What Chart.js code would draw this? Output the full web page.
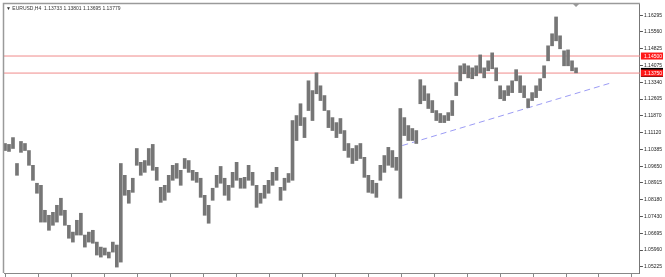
<!DOCTYPE html>
<html>
<head>
<meta charset="utf-8">
<script src="https://cdn.jsdelivr.net/npm/chart.js@4.4.1/dist/chart.umd.min.js"></script>
<style>
  html, body { margin: 0; padding: 0; background: #fff; }
</style>
</head>
<body>
<canvas id="priceChart" width="665" height="277"></canvas>
<script>
const symbolTitle = "\u25BC EURUSD,H4  1.13733 1.13801 1.13695 1.13779";

// H4 bars, one entry every few bars (high / low)
const highs = [
  1.1065, 1.1061, 1.1091, 1.0977, 1.1074, 1.1065, 1.1034, 1.0969, 1.0890, 1.0881,
  1.0771, 1.0749, 1.0762, 1.0793, 1.0824, 1.0771, 1.0705, 1.0675, 1.0727, 1.0758,
  1.0662, 1.0675, 1.0683, 1.0631, 1.0609, 1.0605, 1.0587, 1.0631, 1.0618, 1.0977,
  1.0925, 1.0859, 1.0912, 1.1043, 1.0982, 1.0990, 1.1043, 1.1061, 1.0960, 1.0872,
  1.0881, 1.0925, 1.0969, 1.0977, 1.0947, 1.0999, 1.0990, 1.0947, 1.0938, 1.0912,
  1.0837, 1.0793, 1.0868, 1.0925, 1.0964, 1.0912, 1.0881, 1.0938, 1.0982, 1.0912,
  1.0916, 1.0969, 1.0938, 1.0881, 1.0846, 1.0881, 1.0903, 1.0938, 1.0960, 1.0872,
  1.0912, 1.0933, 1.1166, 1.1188, 1.1240, 1.1179, 1.1341, 1.1298, 1.1376, 1.1319,
  1.1276, 1.1210, 1.1179, 1.1157, 1.1175, 1.1122, 1.1065, 1.1043, 1.1056, 1.1065,
  1.1004, 1.0925, 1.0903, 1.0890, 1.0969, 1.1012, 1.1048, 1.1034, 1.1004, 1.1219,
  1.1179, 1.1144, 1.1131, 1.1122, 1.1346, 1.1319, 1.1284, 1.1254, 1.1210, 1.1197,
  1.1188, 1.1201, 1.1254, 1.1333, 1.1407, 1.1416, 1.1407, 1.1398, 1.1407, 1.1455,
  1.1398, 1.1429, 1.1464, 1.1398, 1.1319, 1.1298, 1.1319, 1.1341, 1.1390, 1.1363,
  1.1319, 1.1262, 1.1289, 1.1319, 1.1350, 1.1407, 1.1495, 1.1548, 1.1622, 1.1539,
  1.1473, 1.1477, 1.1429, 1.1398
];
const lows = [
  1.1034, 1.1030, 1.1043, 1.0925, 1.1026, 1.1034, 1.0969, 1.0903, 1.0846, 1.0719,
  1.0719, 1.0683, 1.0705, 1.0719, 1.0749, 1.0705, 1.0648, 1.0631, 1.0662, 1.0662,
  1.0609, 1.0631, 1.0626, 1.0574, 1.0565, 1.0574, 1.0561, 1.0587, 1.0521, 1.0543,
  1.0837, 1.0802, 1.0850, 1.0969, 1.0925, 1.0938, 1.0969, 1.0947, 1.0903, 1.0806,
  1.0815, 1.0850, 1.0903, 1.0912, 1.0881, 1.0955, 1.0938, 1.0903, 1.0894, 1.0828,
  1.0749, 1.0714, 1.0815, 1.0872, 1.0890, 1.0837, 1.0815, 1.0872, 1.0903, 1.0868,
  1.0868, 1.0903, 1.0881, 1.0784, 1.0802, 1.0824, 1.0846, 1.0881, 1.0903, 1.0815,
  1.0859, 1.0894, 1.0903, 1.1078, 1.1144, 1.1091, 1.1210, 1.1166, 1.1284, 1.1254,
  1.1210, 1.1135, 1.1122, 1.1091, 1.1109, 1.1034, 1.1004, 1.0977, 1.0990, 1.0999,
  1.0916, 1.0850, 1.0846, 1.0828, 1.0903, 1.0938, 1.0969, 1.0960, 1.0947, 1.0824,
  1.1100, 1.1078, 1.1078, 1.1065, 1.1240, 1.1254, 1.1219, 1.1201, 1.1166, 1.1157,
  1.1157, 1.1166, 1.1188, 1.1276, 1.1341, 1.1372, 1.1354, 1.1350, 1.1363, 1.1376,
  1.1354, 1.1385, 1.1394, 1.1341, 1.1262, 1.1254, 1.1276, 1.1289, 1.1341, 1.1289,
  1.1267, 1.1223, 1.1254, 1.1267, 1.1298, 1.1354, 1.1429, 1.1495, 1.1517, 1.1482,
  1.1407, 1.1407, 1.1385, 1.1376
];

const priceTicks = [1.16295, 1.15560, 1.14825, 1.14075, 1.13340, 1.12605, 1.11870, 1.11120,
  1.10385, 1.09650, 1.08915, 1.08180, 1.07430, 1.06695, 1.05960, 1.05225];
const timeTicks = [0.25, 8.5, 16.75, 25, 33.25, 41.5, 49.75, 58, 66.25, 74.5, 82.75, 91,
  99.25, 107.5, 115.75, 124, 132.25, 140.5, 148.75, 157];
const levels = [1.14500, 1.13750];
const bidPrice = 1.13779;
const trendX = [99.5, 152];
const trendY = [1.1056, 1.1333];

const xMin = -0.25, xMax = 159;

const overlay = {
  id: 'overlay',
  beforeDraw(chart) {
    const ctx = chart.ctx;
    ctx.save();
    ctx.fillStyle = '#fff';
    ctx.fillRect(0, 0, chart.width, chart.height);
    ctx.restore();
  },
  afterDraw(chart) {
    const { ctx, chartArea: a, scales } = chart;
    ctx.save();
    ctx.strokeStyle = '#9a9a9a';
    ctx.lineWidth = 1.5;
    ctx.beginPath();
    ctx.moveTo(a.left - 0.5, a.bottom);
    ctx.lineTo(a.left - 0.5, a.top - 0.5);
    ctx.lineTo(a.right, a.top - 0.5);
    ctx.stroke();

    // shift marker
    const sx = scales.x.getPixelForValue(highs.length - 1);
    ctx.fillStyle = '#999';
    ctx.beginPath();
    ctx.moveTo(sx - 3, a.top);
    ctx.lineTo(sx + 3, a.top);
    ctx.lineTo(sx, a.top + 3);
    ctx.fill();

    ctx.font = '5px "Liberation Sans", "DejaVu Sans"';
    ctx.fillStyle = '#333';
    ctx.textBaseline = 'middle';
    ctx.fillText(symbolTitle, a.left + 2, a.top + 5);

    const box = (v, bg, h) => {
      const py = scales.y.getPixelForValue(v);
      ctx.fillStyle = bg;
      ctx.fillRect(a.right + 1, py - h / 2, chart.width - a.right - 3, h);
      ctx.fillStyle = '#fff';
      ctx.fillText(v.toFixed(5), a.right + 4, py + 0.5);
    };
    box(bidPrice, '#000', 9);
    levels.forEach(v => box(v, '#ff1a1a', 7));
    ctx.restore();
  }
};

const levelSets = levels.map(v => ({
  type: 'line',
  data: [{ x: xMin, y: v }, { x: xMax, y: v }],
  borderColor: '#f08a8a',
  borderWidth: 1,
  pointRadius: 0
}));

new Chart(document.getElementById('priceChart'), {
  type: 'bar',
  data: {
    datasets: [
      {
        type: 'bar',
        data: highs.map((h, i) => ({ x: i, y: [lows[i], h] })),
        backgroundColor: '#767676',
        barThickness: 3
      },
      {
        type: 'line',
        data: trendX.map((x, i) => ({ x: x, y: trendY[i] })),
        borderColor: '#9c9cf5',
        borderWidth: 1,
        borderDash: [6, 4],
        pointRadius: 0
      },
      ...levelSets
    ]
  },
  options: {
    responsive: false,
    animation: false,
    layout: { padding: { left: 4, top: 3, right: 2, bottom: 0 } },
    plugins: { legend: { display: false }, tooltip: { enabled: false } },
    scales: {
      x: {
        type: 'linear',
        offset: false,
        min: xMin,
        max: xMax,
        grid: { offset: false, drawOnChartArea: false, drawTicks: true, tickLength: 4, color: '#888' },
        border: { color: '#888' },
        ticks: { display: false },
        afterBuildTicks: s => { s.ticks = timeTicks.map(v => ({ value: v })); }
      },
      y: {
        position: 'right',
        min: 1.0495,
        max: 1.1679,
        grid: { drawOnChartArea: false, tickLength: 3, color: '#555' },
        border: { color: '#777' },
        ticks: {
          padding: 1,
          color: '#222',
          font: { size: 5, family: 'Liberation Sans' },
          callback: v => v.toFixed(5)
        },
        afterBuildTicks: s => { s.ticks = priceTicks.map(v => ({ value: v })); }
      }
    }
  },
  plugins: [overlay]
});
</script>
</body>
</html>
